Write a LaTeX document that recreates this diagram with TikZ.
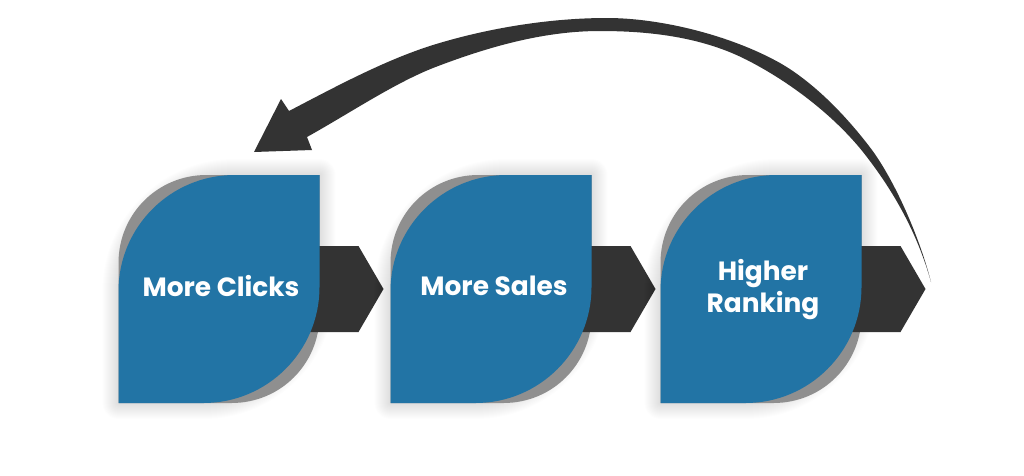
\documentclass[tikz,border=0pt]{standalone}
\usepackage{fontspec}
\setmainfont{Poppins}
\definecolor{leafblue}{HTML}{2274A5}
\definecolor{darkgrey}{HTML}{333333}
\definecolor{backgrey}{HTML}{8F8F8F}
\tikzset{
  leaflabel/.style={text=white,font=\bfseries\fontsize{19.8pt}{24pt}\selectfont,align=center,inner sep=0pt},
  softglow/.style={draw=black,draw opacity=0.007,line join=round,fill=none}
}
\newcommand{\leafshape}[1]{%
  \begin{scope}[shift={(#1,175)}]
    % soft shadow
    \foreach \w in {2,4,...,32}{
      \draw[softglow,line width=\w*0.75pt] (0,228) -- (0,116) .. controls (0,52) and (52,0) .. (116,0) -- (201,0) -- (201,112) .. controls (201,176) and (149,228) .. (85,228) -- cycle;
    }
    % grey back
    \fill[backgrey] (0,228) -- (0,88) .. controls (0,39) and (39,0) .. (88,0) -- (201,0) -- (201,140)
       .. controls (201,189) and (162,228) .. (113,228) -- cycle;
    % chevron between the grey and the blue
    \fill[darkgrey] (150,71) -- (240,71) -- (265,114) -- (240,157) -- (150,157) -- cycle;
    % blue front
    \fill[leafblue] (0,228) -- (0,116) .. controls (0,52) and (52,0) .. (116,0) -- (201,0) -- (201,112)
       .. controls (201,176) and (149,228) .. (85,228) -- cycle;
  \end{scope}}
\begin{document}
\begin{tikzpicture}[x=0.75pt,y=-0.75pt]
\useasboundingbox (0,0) rectangle (1024,475);
\fill[white] (0,0) rectangle (1024,475);
\leafshape{118.5}
\leafshape{390.5}
\leafshape{660.5}
\node[leaflabel] (clicks) at (221,286) {More Clicks};
\node[leaflabel] (sales) at (494,286) {More Sales};
\node[leaflabel,align=center] (ranking) at (763,289.5) {Higher\\[0.5pt]Ranking};
% curved feedback arrow
\fill[darkgrey] (254,152) -- (281,99) -- (289,111)
  .. controls (335,87) and (385,60) .. (433,45)
  .. controls (488,28) and (550,18) .. (607,18)
  .. controls (660,18) and (730,35) .. (780,63)
  .. controls (815,83) and (848,118) .. (872,150)
  .. controls (894,180) and (919,235) .. (931,282)
  .. controls (917,232) and (893,190) .. (863,152)
  .. controls (835,117) and (792,83) .. (747,60)
  .. controls (702,37) and (650,31) .. (600,31)
  .. controls (545,31) and (490,46) .. (433,68)
  .. controls (393,84) and (350,113) .. (307,137)
  -- (312,150) -- cycle;
\end{tikzpicture}
\end{document}
